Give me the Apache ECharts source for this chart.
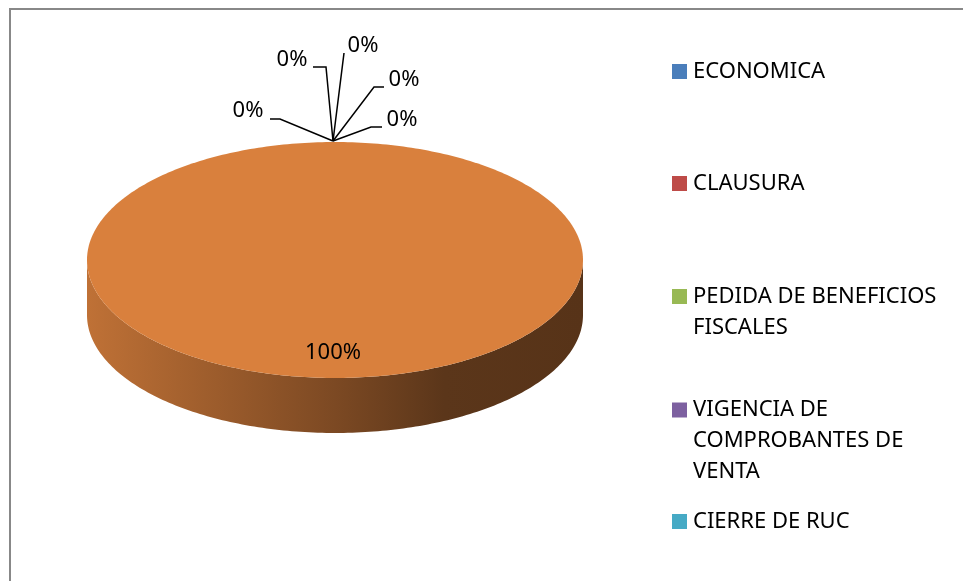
<!DOCTYPE html>
<html><head><meta charset="utf-8">
<script src="https://cdn.jsdelivr.net/npm/echarts@6/dist/echarts.min.js"></script>
<style>html,body{margin:0;padding:0;background:#fff}#c{width:963px;height:581px}</style>
</head><body><div id="c"></div>
<script>
// ---- data ----
const categories = ['ECONOMICA', 'CLAUSURA', 'PEDIDA DE BENEFICIOS FISCALES', 'VIGENCIA DE COMPROBANTES DE VENTA', 'CIERRE DE RUC', 'TOTAL'];
const values = [0, 0, 0, 0, 0, 100];
const legendLabels = ['ECONOMICA', 'CLAUSURA', 'PEDIDA DE BENEFICIOS\nFISCALES', 'VIGENCIA DE\nCOMPROBANTES DE\nVENTA', 'CIERRE DE RUC'];

// ---- style / layout ----
const colors = ['#4A7EBB', '#BE4B48', '#98B954', '#7D60A0', '#46AAC5', '#D9803D'];
const PIE = {cx: 335, cy: 260, rx: 248, ry: 118, depth: 55, labelR: 0.78};
const FONT = '22px "Noto Sans"';
// label offsets for zero-size slices (text centre, elbow points) relative to anchor
const zeroLabelLayout = [
  {t: [-85, -30], p: [[-63, -22], [-53, -22]]},
  {t: [-41, -81], p: [[-20, -74], [-7, -74]]},
  {t: [30, -95], p: [[11, -88], [11, -88]]},
  {t: [71, -61], p: [[51, -54], [41, -54]]},
  {t: [69, -21], p: [[49, -14], [38, -14]]}
];
const legendTops = [56, 168, 250, 332.5, 506];
const LH = 31;

const total = values.reduce((a, b) => a + b, 0);
const angles = [];
let acc = 0;
values.forEach(v => { const s = acc / total * 2 * Math.PI; acc += v; angles.push([s, acc / total * 2 * Math.PI]); });

function pt(t, dy) { return [PIE.cx + PIE.rx * Math.sin(t), PIE.cy - PIE.ry * Math.cos(t) + (dy || 0)]; }
function arcPts(a, b, dy) {
  const n = Math.max(2, Math.ceil((b - a) / (Math.PI / 180)));
  const arr = [];
  for (let k = 0; k <= n; k++) arr.push(pt(a + (b - a) * k / n, dy));
  return arr;
}
function darken(c, f) {
  const arr = echarts.color.parse(c);
  return 'rgb(' + [0, 1, 2].map(k => Math.round(arr[k] * f)).join(',') + ')';
}

function makeRender(i) {
  return function (params, api) {
    const v = api.value(0);
    const [s, e] = angles[i];
    const color = api.visual('color');
    const children = [];
    const pct = Math.round(v / total * 100) + '%';
    if (e - s > 1e-9) {
      const fs = Math.max(s, Math.PI / 2), fe = Math.min(e, 3 * Math.PI / 2);
      if (fe > fs) {
        const top = arcPts(fs, fe, 0);
        const bot = arcPts(fs, fe, PIE.depth).reverse();
        children.push({
          type: 'polygon', shape: {points: top.concat(bot)},
          style: {fill: {type: 'linear', x: 0, y: 0, x2: 1, y2: 0, colorStops: [
            {offset: 0, color: darken(color, 0.88)},
            {offset: 0.5, color: darken(color, 0.57)},
            {offset: 0.72, color: darken(color, 0.42)},
            {offset: 1, color: darken(color, 0.40)}
          ]}}
        });
      }
      const full = e - s >= 2 * Math.PI - 1e-9;
      const pts = arcPts(s, e, 0);
      if (!full) pts.unshift([PIE.cx, PIE.cy]);
      children.push({type: 'polygon', shape: {points: pts}, style: {fill: color}});
      const m = (s + e) / 2;
      children.push({type: 'text', style: {
        text: pct, x: PIE.cx - 2 + PIE.rx * PIE.labelR * Math.sin(m), y: PIE.cy + 1 - PIE.ry * PIE.labelR * Math.cos(m),
        font: FONT, fill: '#000', align: 'center', verticalAlign: 'middle'}});
    } else {
      let z = 0;
      for (let k = 0; k < i; k++) if (values[k] === 0) z++;
      const L = zeroLabelLayout[z % zeroLabelLayout.length];
      const a = pt(s, 0);
      a[0] -= 2; a[1] -= 1;
      const lpts = L.p.map(q => [a[0] + q[0], a[1] + q[1]]).concat([a]);
      children.push({type: 'polyline', shape: {points: lpts}, style: {stroke: '#000', lineWidth: 1.5, fill: null}});
      children.push({type: 'text', style: {
        text: pct, x: a[0] + L.t[0], y: a[1] + L.t[1],
        font: FONT, fill: '#000', align: 'center', verticalAlign: 'middle'}});
    }
    return {type: 'group', children};
  };
}

const chart = echarts.init(document.getElementById('c'), null, {renderer: 'canvas'});
chart.setOption({
  animation: false,
  backgroundColor: '#fff',
  graphic: [{type: 'rect', shape: {x: 10, y: 9, width: 1000, height: 620}, style: {fill: 'none', stroke: '#888', lineWidth: 2}, silent: true}],
  legend: legendLabels.map((lbl, i) => {
    const n = lbl.split('\n').length;
    // leading blank lines keep the icon level with the first text line
    const shown = ' \n'.repeat(n - 1) + lbl;
    return {
      data: [categories[i]], orient: 'vertical', left: 672, top: legendTops[i], padding: 0,
      itemWidth: 15, itemHeight: 15, icon: 'rect', selectedMode: false,
      formatter: () => shown,
      textStyle: {fontFamily: 'Noto Sans', fontSize: 22, color: '#000', lineHeight: LH, padding: [0, 0, 0, 1]}
    };
  }),
  series: categories.map((name, i) => ({
    type: 'custom', name, coordinateSystem: 'none', silent: true,
    data: [[values[i]]], itemStyle: {color: colors[i]},
    renderItem: makeRender(i)
  }))
});
</script>
</body></html>
